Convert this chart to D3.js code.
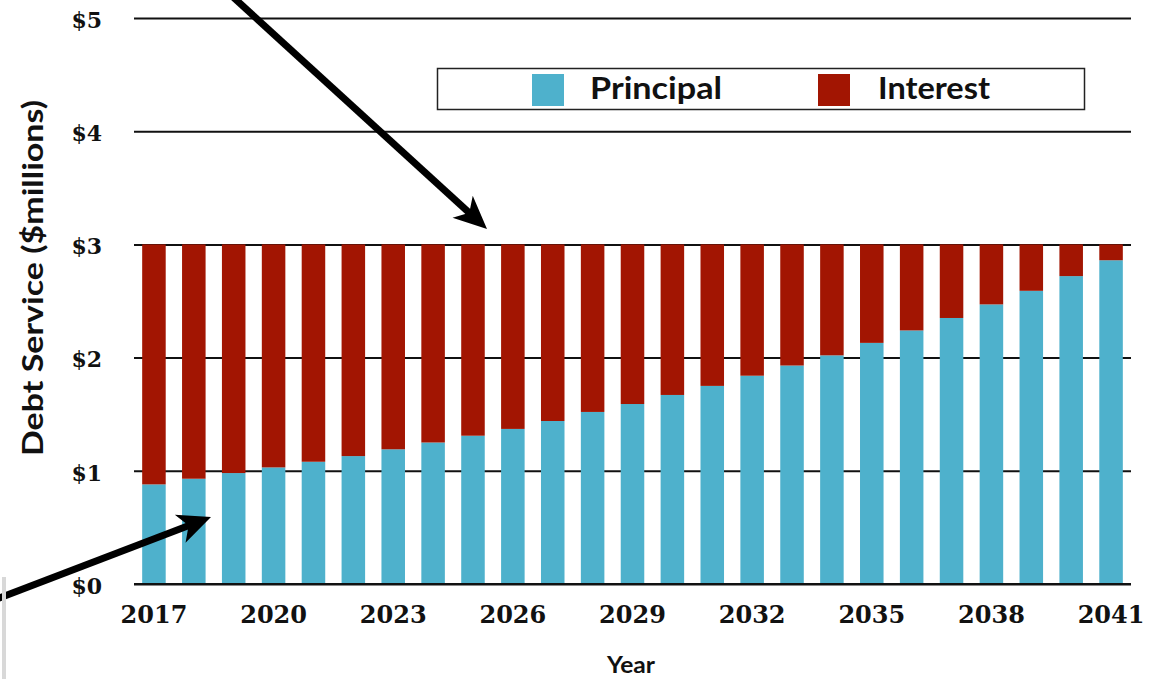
<!DOCTYPE html>
<html>
<head>
<meta charset="utf-8">
<script src="https://cdn.jsdelivr.net/npm/d3@7"></script>
<style>
  html, body { margin: 0; padding: 0; background: #fff; }
  svg { display: block; }
</style>
</head>
<body>
<svg id="chart" width="1150" height="679"></svg>
<script>
// Annual debt service, 2017–2041 ($ millions)
const years = d3.range(2017, 2042);
const principal = [0.88, 0.93, 0.98, 1.03, 1.08, 1.13, 1.19, 1.25, 1.31, 1.37, 1.44, 1.52,
                   1.59, 1.67, 1.75, 1.84, 1.93, 2.02, 2.13, 2.24, 2.35, 2.47, 2.59, 2.72, 2.86];
const totalPayment = [3, 3, 3, 3, 3, 3, 3, 3, 3, 3, 3, 3, 3, 3, 3, 3, 3, 3, 3, 3, 3, 3, 3, 3, 3];
const interest = totalPayment.map((t, i) => +(t - principal[i]).toFixed(2));
const yTicks = [0, 1, 2, 3, 4, 5];
const xTickYears = [2017, 2020, 2023, 2026, 2029, 2032, 2035, 2038, 2041];
const seriesNames = ["Principal", "Interest"];
const seriesColors = ["#4EB1CC", "#A21502"];

const svg = d3.select("#chart");
const plot = { left: 134, right: 1131, top: 18, bottom: 584 };

const x = d3.scaleBand().domain(years).range([plot.left, plot.right]).paddingInner(0.41).paddingOuter(0.205);
const y = d3.scaleLinear().domain([0, 5]).range([plot.bottom, plot.top]);

const serif = "'DejaVu Serif', serif";
const sans = "Lato, 'Open Sans', sans-serif";

// horizontal gridlines with the dollar tick labels
const yAxis = svg.append("g")
  .attr("transform", `translate(${plot.left},0)`)
  .call(d3.axisLeft(y).tickValues(yTicks).tickSize(-(plot.right - plot.left)).tickPadding(32).tickFormat(d => "$" + d));
yAxis.select(".domain").remove();
yAxis.selectAll(".tick line").attr("stroke", "#111").attr("stroke-width", 2);
yAxis.selectAll(".tick text")
  .attr("font-family", serif).attr("font-weight", "bold").attr("font-size", 22)
  .attr("fill", "#111").attr("dy", "0.42em");

// stacked bars
const stackData = years.map((yr, i) => ({ year: yr, Principal: principal[i], Interest: interest[i] }));
const stacked = d3.stack().keys(seriesNames)(stackData);
svg.append("g").selectAll("g").data(stacked).join("g")
  .attr("fill", (d, i) => seriesColors[i])
  .selectAll("rect").data(d => d).join("rect")
  .attr("x", d => x(d.data.year))
  .attr("width", x.bandwidth())
  .attr("y", d => y(d[1]))
  .attr("height", d => y(d[0]) - y(d[1]));

// baseline on top of the bars
svg.append("line")
  .attr("x1", plot.left).attr("x2", plot.right)
  .attr("y1", y(0)).attr("y2", y(0))
  .attr("stroke", "#111").attr("stroke-width", 2);

// year axis
const xAxis = svg.append("g")
  .attr("transform", `translate(0,${plot.bottom})`)
  .call(d3.axisBottom(x).tickValues(xTickYears).tickSize(0).tickPadding(22));
xAxis.select(".domain").remove();
xAxis.selectAll(".tick text")
  .attr("font-family", serif).attr("font-weight", "bold").attr("font-size", 24)
  .attr("fill", "#111");

// axis titles
svg.append("text")
  .attr("x", 631).attr("y", 673)
  .attr("text-anchor", "middle")
  .attr("font-family", sans).attr("font-weight", "bold").attr("font-size", 22)
  .attr("textLength", 48).attr("lengthAdjust", "spacingAndGlyphs")
  .attr("fill", "#111").text("Year");

svg.append("text")
  .attr("transform", "translate(43,278) rotate(-90)")
  .attr("text-anchor", "middle")
  .attr("font-family", sans).attr("font-weight", "bold").attr("font-size", 29)
  .attr("textLength", 356).attr("lengthAdjust", "spacingAndGlyphs")
  .attr("fill", "#111").text("Debt Service ($millions)");

// legend
const legend = svg.append("g");
legend.append("rect")
  .attr("x", 437.5).attr("y", 68.5).attr("width", 647).attr("height", 41)
  .attr("fill", "#fff").attr("stroke", "#222").attr("stroke-width", 1.5);
const legendItems = [
  { name: seriesNames[0], color: seriesColors[0], sx: 532, tx: 590, tw: 132 },
  { name: seriesNames[1], color: seriesColors[1], sx: 818, tx: 878, tw: 112 }
];
legendItems.forEach(it => {
  legend.append("rect").attr("x", it.sx).attr("y", 74).attr("width", 32).attr("height", 32).attr("fill", it.color);
  legend.append("text")
    .attr("x", it.tx).attr("y", 99)
    .attr("font-family", sans).attr("font-weight", "bold").attr("font-size", 31)
    .attr("textLength", it.tw).attr("lengthAdjust", "spacingAndGlyphs")
    .attr("fill", "#111").text(it.name);
});

// callout arrows
const defs = svg.append("defs");
defs.append("marker")
  .attr("id", "arrowhead")
  .attr("markerUnits", "userSpaceOnUse")
  .attr("viewBox", "-34 -17 36 34")
  .attr("refX", 0).attr("refY", 0)
  .attr("markerWidth", 36).attr("markerHeight", 34)
  .attr("orient", "auto")
  .append("path")
  .attr("d", "M0,0 L-33,-15 L-24,0 L-33,15 Z")
  .attr("fill", "#000");

const arrows = [
  { x1: 233, y1: -3, x2: 487, y2: 229 },
  { x1: -3, y1: 599, x2: 211, y2: 517 }
];
arrows.forEach(a => {
  const len = Math.hypot(a.x2 - a.x1, a.y2 - a.y1);
  const ux = (a.x2 - a.x1) / len, uy = (a.y2 - a.y1) / len;
  svg.append("line")
    .attr("x1", a.x1).attr("y1", a.y1)
    .attr("x2", a.x2 - ux * 18).attr("y2", a.y2 - uy * 18)
    .attr("stroke", "#000").attr("stroke-width", 7);
  svg.append("line")
    .attr("x1", a.x2 - ux * 20).attr("y1", a.y2 - uy * 20)
    .attr("x2", a.x2).attr("y2", a.y2)
    .attr("stroke", "none")
    .attr("marker-end", "url(#arrowhead)");
});

// faint edge at the lower left
svg.append("rect").attr("x", 2).attr("y", 577).attr("width", 4).attr("height", 102).attr("fill", "#d8d8d8");
</script>
</body>
</html>
